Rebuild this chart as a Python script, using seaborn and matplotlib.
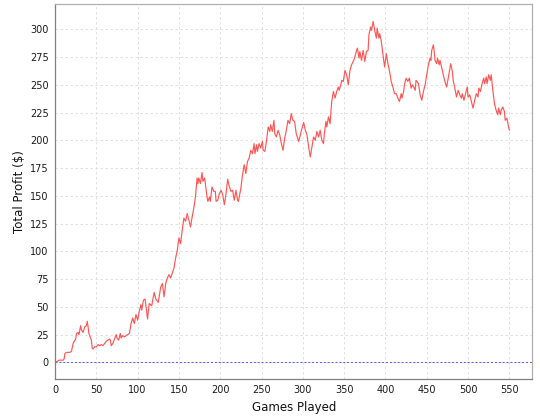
import matplotlib
matplotlib.use("Agg")
import matplotlib.pyplot as plt
import seaborn as sns
import pandas as pd

games = [0, 3, 5, 8, 10, 11, 12, 14, 16, 18, 20, 21, 22, 24, 25, 26, 28, 29, 31, 32, 34, 36, 38, 39, 40, 41, 43, 44, 45, 46, 48, 50, 52, 54, 56, 58, 60, 62, 64, 66, 67, 68, 70, 72, 74, 75, 77, 79, 80, 82, 84, 86, 88, 90, 91, 92, 94, 96, 98, 100, 102, 104, 105, 107, 109,
         112, 114, 117, 120, 122, 125, 128, 130, 132, 134, 136, 138, 140, 144, 146, 148, 150, 152, 154, 156, 158, 160, 162, 164, 166, 168, 170, 172, 173, 174, 176, 178, 179, 181, 182, 184, 185, 187, 188, 190, 192, 194, 195, 197, 199, 201, 203, 205, 207, 209, 211, 213, 215, 217, 219, 221, 222,
         225, 227, 229, 231, 233, 235, 237, 239, 241, 242, 244, 245, 247, 249, 251, 252, 254, 256, 258, 260, 261, 263, 265, 266, 268, 270, 272, 274, 276, 278, 280, 282, 284, 286, 288, 290, 292, 295, 297, 299, 301, 303, 305, 307, 309, 311, 313, 315, 317, 319, 321, 323, 325, 326,
         328, 329, 331, 333, 334, 335, 337, 339, 341, 343, 344, 346, 347, 349, 351, 353, 355, 357, 359, 361, 363, 365, 366, 368, 369, 371, 373, 375, 377, 379, 380, 382, 383, 385, 387, 389, 390, 392, 393, 395, 397, 399, 401, 403, 405, 407, 409, 411, 413, 415, 417, 419, 420, 422, 423, 425, 427, 429, 431, 433, 436, 437, 440,
         442, 444, 446, 448, 450, 452, 454, 455, 456, 458, 459, 460, 462, 463, 465, 466, 468, 470, 472, 474, 476, 478, 479, 481, 482, 484, 486, 488, 490, 492, 493, 495, 497, 499, 500, 502, 504, 506, 508, 510, 512, 513, 515, 517, 519, 520, 522, 523, 525, 527, 528, 530, 532, 534, 536, 537, 539, 540, 542, 544, 545, 547, 549, 550]

profit = [0, 1, 2, 2, 2, 3, 8, 9, 9, 9, 10, 14, 17, 20, 21, 26, 27, 25, 33, 29, 27, 32, 33, 37, 32, 26, 22, 20, 13, 12, 14, 14, 16, 15, 16, 15, 17, 19, 20, 21, 20, 15, 17, 21, 25, 22, 20, 26, 22, 24, 23, 24, 25, 26, 30, 35, 40, 35, 43, 38, 46, 52, 47, 56, 57,
          39, 53, 51, 63, 57, 54, 68, 71, 59, 71, 76, 79, 76, 85, 94, 101, 112, 107, 119, 130, 127, 134, 128, 122, 131, 139, 149, 166, 161, 166, 161, 171, 163, 166, 161, 149, 145, 149, 145, 158, 154, 154, 145, 146, 152, 155, 151, 142, 152, 165, 158, 154, 155, 146, 155, 146, 145,
          157, 169, 178, 170, 181, 184, 191, 188, 197, 188, 196, 190, 197, 193, 199, 191, 190, 199, 212, 208, 214, 208, 218, 206, 203, 209, 205, 197, 191, 202, 209, 218, 215, 224, 218, 217, 206, 199, 205, 211, 216, 209, 205, 194, 185, 194, 203, 200, 208, 203, 209, 200, 197, 206,
          217, 212, 221, 215, 226, 235, 244, 238, 244, 248, 245, 250, 254, 253, 263, 259, 250, 263, 268, 271, 275, 281, 283, 274, 280, 272, 281, 271, 280, 281, 295, 302, 299, 307, 299, 292, 301, 292, 296, 289, 277, 266, 278, 269, 262, 253, 248, 242, 242, 238, 235, 242, 238, 244, 250, 256, 253, 256, 247, 250, 245, 254, 251,
          241, 236, 244, 250, 259, 268, 274, 272, 281, 286, 280, 272, 269, 274, 268, 272, 266, 259, 253, 248, 256, 265, 269, 262, 254, 247, 239, 245, 241, 238, 242, 236, 242, 248, 239, 241, 235, 229, 236, 242, 239, 247, 244, 251, 256, 251, 257, 251, 259, 254, 259, 245, 233, 227, 223, 229, 223, 227, 230, 226, 218, 220, 212, 209]

x_ticks = list(range(0, 551, 50))
y_ticks = list(range(0, 301, 25))

df = pd.DataFrame({"Games Played": games, "Total Profit ($)": profit})

sns.set_style("white")
plt.rcParams["font.family"] = ["DejaVu Sans"]

fig = plt.figure(figsize=(5.4, 4.2), dpi=100)
ax = fig.add_axes([0.1019, 0.0976, 0.8842, 0.8922])

grid_kw = dict(color="#dcdcdc", linewidth=0.6, linestyle=(0, (3, 3)))
ax.set_axisbelow(True)
for xt in x_ticks:
    ax.axvline(xt, **grid_kw, zorder=0)
for yt in y_ticks:
    ax.axhline(yt, **grid_kw, zorder=0)

ax.axhline(0, color="#5555FF", linewidth=0.7, linestyle=(0, (2, 2)), zorder=1)

sns.lineplot(data=df, x="Games Played", y="Total Profit ($)", ax=ax,
             color="#FF5555", linewidth=0.85, zorder=2)

ax.set_xlim(0, 578)
ax.set_ylim(-15, 322.5)
ax.set_xticks(x_ticks)
ax.set_yticks(y_ticks)
ax.tick_params(axis="both", direction="out", length=2.5, width=0.6,
               color="#808080", labelsize=7, labelcolor="#1a1a1a", pad=2)
ax.set_xlabel("Games Played", fontsize=8.5, color="#111111", labelpad=4)
ax.set_ylabel("Total Profit ($)", fontsize=8.5, color="#111111", labelpad=3)

for side in ["left", "bottom"]:
    ax.spines[side].set_color("#808080")
    ax.spines[side].set_linewidth(0.9)
for side in ["top", "right"]:
    ax.spines[side].set_color("#b0b0b0")
    ax.spines[side].set_linewidth(0.9)

fig.savefig("out.png", dpi=100)
